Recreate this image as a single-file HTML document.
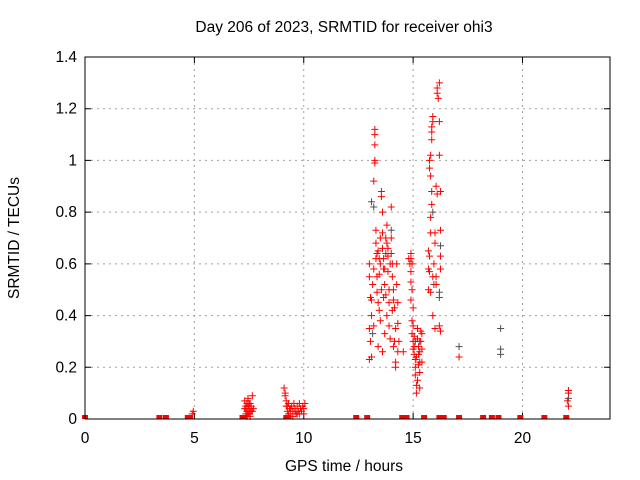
<!DOCTYPE html>
<html><head><meta charset="utf-8"><style>
body{margin:0;background:#fff;}
svg{display:block;font-family:"Liberation Sans",sans-serif;font-size:15.5px;}
</style></head><body>
<svg id="chart" width="640" height="480">
<rect x="0" y="0" width="640" height="480" fill="#fff"/>
<text x="344" y="32" text-anchor="middle">Day 206 of 2023, SRMTID for receiver ohi3</text>
<text x="344" y="471" text-anchor="middle">GPS time / hours</text>
<text transform="translate(19,238) rotate(-90)" text-anchor="middle">SRMTID / TECUs</text>
<g id="grid"></g>
<g id="ticks"></g>
<g id="marks"></g>
<rect x="85" y="57" width="525" height="362" fill="none" stroke="#000" stroke-width="1"/>
</svg>
<script>
const xTicks=[0,5,10,15,20];
const yTicks=[0,0.2,0.4,0.6,0.8,1,1.2,1.4];
const yTickLabels=["0","0.2","0.4","0.6","0.8","1","1.2","1.4"];
const redZeroHours=[0,3.4,3.7,4.7,4.8,7.2,7.3,9.2,9.3,12.4,12.9,14.5,14.6,14.7,15.5,16.2,16.4,17.1,18.2,18.6,18.9,19.9,21.0,22.0];
const redPoints=[[4.9,0.02],[4.95,0.03],
[7.3,0.07],[7.35,0.05],[7.4,0.03],[7.3,0.04],[7.35,0.02],[7.4,0.06],[7.45,0.08],[7.5,0.04],[7.5,0.02],[7.55,0.06],[7.6,0.05],[7.6,0.03],[7.65,0.09],[7.7,0.04],[7.4,0.01],[7.55,0.01],[7.45,0.05],[7.65,0.03],[7.35,0.04],[7.5,0.06],[7.55,0.03],[7.45,0.02],
[9.1,0.12],[9.15,0.09],[9.2,0.07],[9.2,0.05],[9.25,0.03],[9.3,0.06],[9.35,0.04],[9.4,0.02],[9.45,0.05],[9.5,0.03],[9.55,0.06],[9.6,0.04],[9.65,0.02],[9.7,0.05],[9.75,0.03],[9.8,0.06],[9.85,0.04],[9.9,0.03],[9.95,0.05],[10.0,0.04],[10.05,0.06],[9.3,0.02],[9.5,0.01],[9.7,0.02],[9.15,0.1],[9.4,0.04],[9.6,0.03],[9.8,0.02],[10.0,0.02],[9.25,0.05],
[13.0,0.6],[13.0,0.55],[13.05,0.47],[13.0,0.35],[13.05,0.3],[13.0,0.23],[13.1,0.24],[13.1,0.46],[13.15,0.52],[13.2,0.58],[13.2,0.92],[13.25,0.99],[13.25,1.0],[13.25,1.06],[13.25,1.1],[13.25,1.12],[13.3,0.73],[13.3,0.68],[13.3,0.62],[13.35,0.55],[13.35,0.49],[13.4,0.45],[13.45,0.42],[13.5,0.38],[13.5,0.6],[13.55,0.86],[13.55,0.88],[13.6,0.8],[13.6,0.72],[13.6,0.66],[13.65,0.62],[13.7,0.58],[13.7,0.52],[13.75,0.64],[13.75,0.7],[13.8,0.75],[13.8,0.68],[13.85,0.63],[13.85,0.57],[13.9,0.5],[13.9,0.45],[13.9,0.36],[13.95,0.31],[14.0,0.82],[14.0,0.7],[14.0,0.64],[14.05,0.6],[14.05,0.55],[14.1,0.5],[14.1,0.46],[14.15,0.43],[14.15,0.3],[14.2,0.22],[14.2,0.2],[14.2,0.35],[14.25,0.6],[14.25,0.52],[14.3,0.45],[14.3,0.37],[14.35,0.3],[13.1,0.4],[13.2,0.36],[13.4,0.28],[13.4,0.65],[13.5,0.7],[13.65,0.47],[13.8,0.4],[13.7,0.33],[13.6,0.26],[14.1,0.28],[14.3,0.26],[14.55,0.26],[13.45,0.56],[13.55,0.5],[13.65,0.58],[13.75,0.48],[13.85,0.66],[13.95,0.6],[14.05,0.42],[13.35,0.64],[13.45,0.62],
[14.9,0.64],[14.9,0.62],[14.95,0.6],[14.9,0.57],[14.9,0.53],[14.95,0.5],[14.9,0.46],[15.0,0.43],[14.95,0.38],[15.0,0.36],[14.95,0.33],[15.0,0.3],[15.05,0.28],[15.05,0.25],[15.1,0.23],[15.1,0.2],[15.1,0.17],[15.15,0.13],[15.15,0.1],[15.2,0.35],[15.2,0.31],[15.25,0.28],[15.25,0.25],[15.3,0.22],[15.3,0.18],[15.35,0.34],[15.35,0.3],[15.3,0.26],[15.4,0.33],[15.4,0.27],[15.2,0.15],[15.15,0.24],[15.0,0.27],[15.05,0.32],[15.1,0.3],[15.25,0.21],[15.3,0.12],[14.8,0.62],[14.85,0.6],[15.4,0.22],
[15.7,0.5],[15.75,0.57],[15.75,0.63],[15.7,0.65],[15.7,0.58],[15.8,0.72],[15.8,0.78],[15.85,0.83],[15.85,0.88],[15.8,0.94],[15.75,1.0],[15.8,1.02],[15.75,0.97],[15.85,1.11],[15.85,1.13],[15.9,1.15],[15.9,1.17],[15.85,1.08],[15.9,0.55],[15.95,0.6],[16.0,0.68],[16.0,0.72],[16.05,0.9],[16.1,0.87],[16.05,0.55],[16.05,0.52],[16.1,1.28],[16.1,1.26],[16.15,1.24],[16.2,1.3],[16.2,1.15],[16.2,1.02],[16.25,0.88],[16.25,0.73],[16.25,0.63],[16.25,0.58],[16.2,0.36],[16.25,0.34],[15.8,0.49],[15.9,0.4],[16.0,0.35],
[17.1,0.24],[22.1,0.11],[22.1,0.1],[22.05,0.07],[22.1,0.05]];
const grayPoints=[[13.1,0.84],[13.2,0.82],[13.15,0.33],[14.0,0.73],[15.9,0.8],[16.25,0.67],[16.2,0.49],[16.2,0.47],[15.95,0.52],[17.1,0.28],[19.0,0.35],[19.0,0.27],[19.0,0.25],[22.1,0.08],[15.3,0.3]];
const X0=85,X1=610,Y0=419,Y1=57,XMAX=24,YMAX=1.4;
const xs=h=>X0+h/XMAX*(X1-X0);
const ys=v=>Y0-v/YMAX*(Y0-Y1);
const NS="http://www.w3.org/2000/svg";
function mk(tag,attrs,parent){const e=document.createElementNS(NS,tag);for(const k in attrs)e.setAttribute(k,attrs[k]);parent.appendChild(e);return e;}
const grid=document.getElementById('grid'),ticks=document.getElementById('ticks'),marks=document.getElementById('marks');
xTicks.forEach(t=>{const x=xs(t);
 if(t>0){const g=mk('line',{x1:x,x2:x,y1:Y1,y2:Y0,stroke:'#a0a0a0','stroke-dasharray':'2,4'},grid);
 
 }
 const tk=mk('path',{d:`M${x},${Y0}v-6M${x},${Y1}v6`,stroke:'#000'},ticks);
 
 
 const lb=mk('text',{x:x,y:Y0+24,'text-anchor':'middle'},ticks);lb.textContent=t;
 
 
});
yTicks.forEach((t,i)=>{const y=ys(t);
 if(t>0&&t<YMAX){const g=mk('line',{x1:X0,x2:X1,y1:y,y2:y,stroke:'#a0a0a0','stroke-dasharray':'2,4'},grid);
 
 }
 const tk=mk('path',{d:`M${X0},${y}h6M${X1},${y}h-6`,stroke:'#000'},ticks);
 
 
 const lb=mk('text',{x:X0-8,y:y+5,'text-anchor':'end'},ticks);lb.textContent=yTickLabels[i];
 
 
});
function plus(h,v,color,name){const x=xs(h),y=ys(v);
 const p=mk('path',{d:`M${x-3.5},${y}h7M${x},${y-3.5}v7`,stroke:color,'stroke-width':1},marks);
 
 }
grayPoints.forEach(p=>plus(p[0],p[1],'#505050','gray-point'));
redPoints.forEach(p=>plus(p[0],p[1],'#ff0000','red-point'));
redZeroHours.forEach(h=>{const x=xs(h);
 const r=mk('rect',{x:x-3,y:Y0-4,width:6,height:4,fill:'#ff0000'},marks);
 
 });
</script>
</body></html>
